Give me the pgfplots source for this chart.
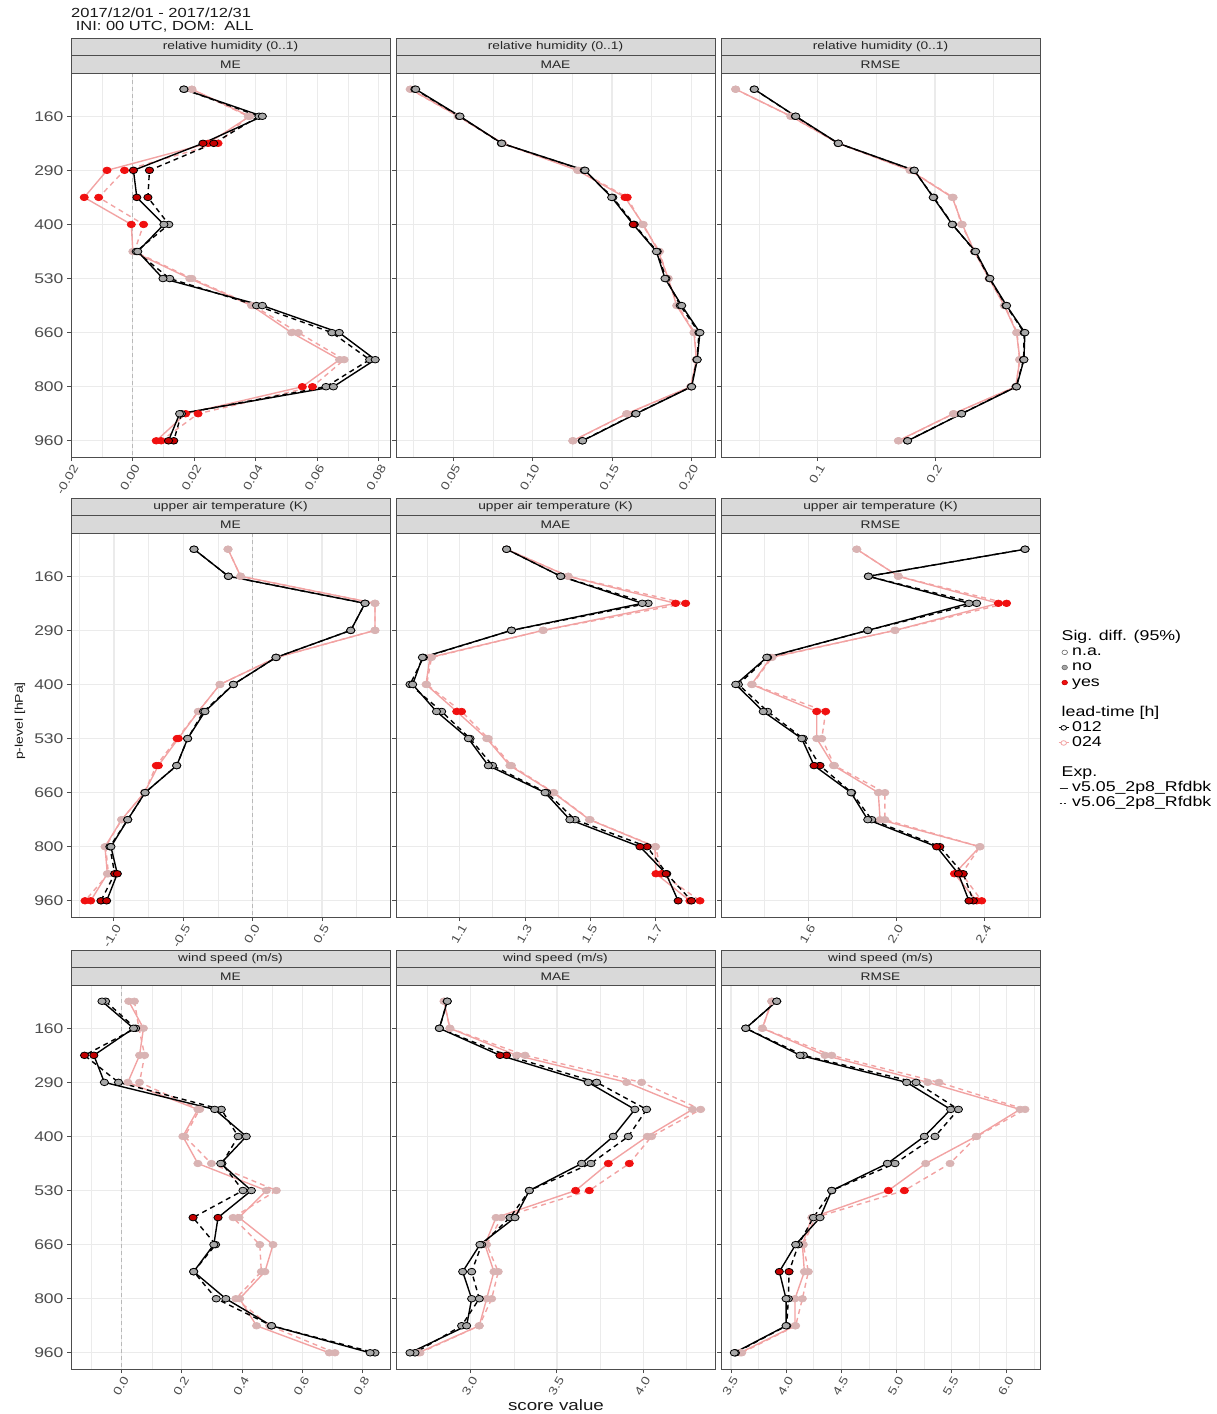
\documentclass[border=0pt]{standalone}
\usepackage{fontspec}
\setmainfont{Liberation Sans}[FakeStretch=1.25]
\usepackage{pgfplots}
\usepackage{pgfplotstable}
\pgfplotsset{compat=1.18}
\definecolor{gridc}{HTML}{EBEBEB}
\definecolor{bordc}{HTML}{4D4D4D}
\definecolor{stripf}{HTML}{D9D9D9}
\definecolor{tickc}{HTML}{4D4D4D}
\definecolor{no012}{HTML}{A8A8A8}
\definecolor{yes012}{HTML}{C40000}
\definecolor{c024}{HTML}{F2A3A3}
\definecolor{no024}{HTML}{D9B3B3}
\definecolor{yes024}{HTML}{F01010}
\newcommand{\fs}[1]{\fontsize{#1}{#1}\selectfont}

% columns: lev, a = 012 v5.05 (solid), b = 012 v5.06 (dashed), c = 024 v5.05, d = 024 v5.06, s = sig 012, t = sig 024
\pgfplotstableread{
lev a b c d s t
1 0.0166 0.0166 0.0192 0.0192 N N
2 0.0421 0.0410 0.0380 0.0375 N N
3 0.0228 0.0263 0.0245 0.0277 Y Y
4 0.0002 0.0054 -0.0084 -0.0027 Y Y
5 0.0013 0.0049 -0.0158 -0.0111 Y Y
6 0.0101 0.0117 -0.0005 0.0035 N Y
7 0.0016 0.0011 0.0000 0.0005 N N
8 0.0098 0.0120 0.0185 0.0192 N N
9 0.0421 0.0402 0.0386 0.0391 N N
10 0.0671 0.0647 0.0516 0.0538 N N
11 0.0788 0.0770 0.0672 0.0687 N N
12 0.0652 0.0628 0.0551 0.0584 N Y
13 0.0152 0.0158 0.0172 0.0212 N Y
14 0.0116 0.0133 0.0076 0.0092 Y Y
}\tA
\pgfplotstableread{
lev a b c d s t
1 0.0263 0.0258 0.0231 0.0228 N N
2 0.0542 0.0538 0.0532 0.0530 N N
3 0.0805 0.0803 0.0811 0.0808 N N
4 0.1330 0.1325 0.1283 0.1290 N N
5 0.1498 0.1505 0.1582 0.1596 N Y
6 0.1634 0.1640 0.1697 0.1690 Y N
7 0.1780 0.1785 0.1792 0.1800 N N
8 0.1834 0.1840 0.1855 0.1850 N N
9 0.1939 0.1930 0.1907 0.1915 N N
10 0.2054 0.2048 0.2016 0.2020 N N
11 0.2037 0.2035 0.2033 0.2030 N N
12 0.2002 0.2000 0.1995 0.1998 N N
13 0.1651 0.1648 0.1592 0.1595 N N
14 0.1315 0.1312 0.1252 0.1255 N N
}\tB
\pgfplotstableread{
lev a b c d s t
1 0.0460 0.0458 0.0301 0.0300 N N
2 0.0813 0.0810 0.0773 0.0770 N N
3 0.1176 0.1174 0.1176 0.1178 N N
4 0.1824 0.1820 0.1787 0.1790 N N
5 0.1985 0.1990 0.2147 0.2155 N N
6 0.2147 0.2150 0.2233 0.2225 N N
7 0.2346 0.2340 0.2335 0.2340 N N
8 0.2468 0.2465 0.2460 0.2465 N N
9 0.2610 0.2605 0.2590 0.2595 N N
10 0.2766 0.2760 0.2695 0.2700 N N
11 0.2758 0.2755 0.2724 0.2720 N N
12 0.2695 0.2692 0.2687 0.2690 N N
13 0.2227 0.2225 0.2156 0.2160 N N
14 0.1767 0.1765 0.1687 0.1690 N N
}\tC
\pgfplotstableread{
lev a b c d s t
1 -0.423 -0.423 -0.178 -0.178 N N
2 -0.175 -0.175 -0.087 -0.087 N N
3 0.810 0.810 0.882 0.882 N N
4 0.707 0.707 0.882 0.882 N N
5 0.168 0.168 0.173 0.173 N N
6 -0.139 -0.139 -0.236 -0.236 N N
7 -0.344 -0.355 -0.392 -0.392 N N
8 -0.469 -0.469 -0.536 -0.545 N Y
9 -0.548 -0.548 -0.680 -0.695 N Y
10 -0.776 -0.776 -0.781 -0.781 N N
11 -0.901 -0.901 -0.945 -0.945 N N
12 -1.022 -1.030 -1.065 -1.060 N N
13 -0.976 -0.995 -1.048 -1.040 Y N
14 -1.053 -1.094 -1.168 -1.209 Y Y
}\tD
\pgfplotstableread{
lev a b c d s t
1 1.243 1.243 1.243 1.243 N N
2 1.409 1.409 1.432 1.432 N N
3 1.659 1.677 1.761 1.792 N Y
4 1.258 1.258 1.355 1.355 N N
5 0.985 0.988 1.008 1.013 N N
6 0.955 0.947 0.996 0.998 N N
7 1.028 1.044 1.090 1.105 N Y
8 1.126 1.131 1.182 1.187 N N
9 1.187 1.200 1.253 1.258 N N
10 1.361 1.366 1.386 1.388 N N
11 1.437 1.453 1.497 1.499 N N
12 1.652 1.674 1.698 1.700 Y N
13 1.732 1.734 1.701 1.718 Y Y
14 1.769 1.810 1.805 1.836 Y Y
}\tE
\pgfplotstableread{
lev a b c d s t
1 2.585 2.585 1.820 1.820 N N
2 1.873 1.873 2.009 2.009 N N
3 2.330 2.365 2.464 2.501 N Y
4 1.870 1.870 1.994 1.994 N N
5 1.411 1.415 1.430 1.435 N N
6 1.270 1.282 1.342 1.345 N N
7 1.395 1.415 1.638 1.679 N Y
8 1.570 1.577 1.638 1.661 N N
9 1.626 1.653 1.714 1.719 Y N
10 1.794 1.797 1.918 1.948 N N
11 1.870 1.888 1.926 1.948 N N
12 2.183 2.198 2.380 2.380 Y N
13 2.282 2.304 2.264 2.297 Y Y
14 2.330 2.350 2.365 2.388 Y Y
}\tF
\pgfplotstableread{
lev a b c d s t
1 -0.066 -0.054 0.023 0.042 N N
2 0.039 0.046 0.072 0.057 N N
3 -0.093 -0.124 0.059 0.076 Y N
4 -0.058 -0.011 0.020 0.059 N N
5 0.309 0.331 0.253 0.259 N N
6 0.414 0.387 0.203 0.209 N N
7 0.329 0.333 0.253 0.298 N N
8 0.431 0.403 0.481 0.514 N N
9 0.320 0.237 0.390 0.370 Y N
10 0.306 0.312 0.503 0.459 N N
11 0.239 0.239 0.476 0.464 N N
12 0.346 0.314 0.392 0.379 N N
13 0.498 0.498 0.448 0.492 N N
14 0.826 0.842 0.690 0.709 N N
}\tG
\pgfplotstableread{
lev a b c d s t
1 2.865 2.865 2.846 2.846 N N
2 2.819 2.819 2.880 2.880 N N
3 3.170 3.208 3.266 3.315 Y N
4 3.681 3.730 3.903 3.990 N N
5 3.951 4.019 4.285 4.332 N N
6 3.826 3.913 4.023 4.048 N N
7 3.643 3.697 3.797 3.919 N Y
8 3.340 3.340 3.608 3.687 N Y
9 3.257 3.228 3.147 3.179 N N
10 3.054 3.064 3.083 3.093 N N
11 2.954 3.006 3.135 3.160 N N
12 3.006 3.050 3.093 3.122 N N
13 2.977 2.948 3.050 3.050 N N
14 2.649 2.678 2.697 2.707 N N
}\tH
\pgfplotstableread{
lev a b c d s t
1 3.914 3.914 3.869 3.869 N N
2 3.633 3.633 3.784 3.784 N N
3 4.126 4.156 4.352 4.413 N N
4 5.093 5.178 5.284 5.386 N N
5 5.492 5.562 6.121 6.166 N N
6 5.253 5.350 5.722 5.728 N N
7 4.918 4.987 5.265 5.486 N N
8 4.413 4.413 4.927 5.072 N Y
9 4.307 4.247 4.232 4.262 N N
10 4.086 4.111 4.147 4.156 N N
11 3.938 4.026 4.165 4.201 Y N
12 3.999 4.020 4.080 4.147 N N
13 3.999 4.005 4.080 4.086 N N
14 3.530 3.540 3.582 3.597 N N
}\tI

\pgfplotsset{
 panel/.style={width=319pt,height=384pt,scale only axis,anchor=north west,
   y dir=reverse,ymin=0.4,ymax=14.6,ytick={2,4,6,8,10,12,14},yticklabels={},
   grid=both, major grid style={gridc,line width=1.1pt}, minor grid style={gridc,line width=0.55pt},
   axis line style={bordc,line width=1pt}, tick style={bordc,line width=1pt},
   major tick length=4pt, minor tick length=0pt, tick align=outside, tick pos=left,
   xticklabel style={rotate=60,anchor=north east,font=\fs{11.5},text=tickc,inner sep=1.5pt},
   yticklabel style={font=\fs{14},text=tickc},
 },
 ylab/.style={yticklabels={160,290,400,530,660,800,960}},
 l012/.style={color=black, line width=1.4pt, mark size=3.3pt, scatter, scatter src=explicit symbolic,
   scatter/classes={N={mark=*,solid,draw=black,fill=no012,line width=0.8pt,xscale=1.25},
                    Y={mark=*,solid,draw=black,fill=yes012,line width=0.8pt,xscale=1.25}}},
 l024/.style={color=c024, line width=1.4pt, mark size=3.3pt, scatter, scatter src=explicit symbolic,
   scatter/classes={N={mark=*,solid,draw=no024,fill=no024,line width=0.7pt,xscale=1.25},
                    Y={mark=*,solid,draw=yes024,fill=yes024,line width=0.7pt,xscale=1.25}}},
 dsh/.style={dash pattern=on 5pt off 4pt},
 blankimg/.style={legend image code/.code={\path[draw=none,fill=none] (0pt,-2pt) rectangle (8pt,2pt);}},
 dotimg/.style 2 args={legend image code/.code={\path[draw=none,fill=none] (0pt,-2pt) rectangle (8pt,2pt);\draw[draw=#1,fill=#2,line width=0.6pt] (5pt,0pt) ellipse (2.8pt and 2.3pt);}},
 ltimg/.style={legend image code/.code={\draw[#1,line width=1pt] (-1pt,0pt) -- (9pt,0pt);\draw[#1,fill=white,line width=0.8pt] (4pt,0pt) ellipse (2.8pt and 2.3pt);}},
 eximg/.style={legend image code/.code={\draw[black!85,line width=1pt,#1] (0pt,0pt) -- (8pt,0pt);}},
}
\newcommand{\fourplots}[1]{%
 \addplot[l024] table[x=c,y=lev,meta=t]{#1};
 \addplot[l024,dsh] table[x=d,y=lev,meta=t]{#1};
 \addplot[l012,dsh] table[x=b,y=lev,meta=s]{#1};
 \addplot[l012] table[x=a,y=lev,meta=s]{#1};
}
\newcommand{\zeroline}{\addplot[gray!55,dash pattern=on 4pt off 3pt,line width=0.9pt,forget plot] coordinates {(0,0.4) (0,14.6)};}
\newcommand{\strips}[4]{%
 \draw[bordc,fill=stripf,line width=0.8pt] (#1,-#2) rectangle ++(319,-17.5);
 \draw[bordc,fill=stripf,line width=0.8pt] (#1,-#2-17.5) rectangle ++(319,-17.5);
 \node[font=\fs{11},text=black!85] at (#1+159.5,-#2-8.9) {#3};
 \node[font=\fs{11},text=black!85] at (#1+159.5,-#2-26.4) {#4};
}

\begin{document}
\begin{tikzpicture}[x=1pt,y=1pt]
\useasboundingbox (0,0) rectangle (1217,-1414);
% ---------- row 1: relative humidity
\begin{axis}[panel,ylab,at={(71pt,-73pt)},xmin=-0.0201,xmax=0.0836,
  xtick={-0.02,0,0.02,0.04,0.06,0.08},xticklabels={-0.02,0.00,0.02,0.04,0.06,0.08},
  minor xtick={-0.01,0.01,0.03,0.05,0.07}]
\zeroline
\fourplots{\tA}
\end{axis}
\begin{axis}[panel,at={(396pt,-73pt)},xmin=0.0139,xmax=0.2149,
  xtick={0.05,0.10,0.15,0.20},xticklabels={0.05,0.10,0.15,0.20},
  minor xtick={0.025,0.075,0.125,0.175}]
\fourplots{\tB}
\end{axis}
\begin{axis}[panel,at={(721pt,-73pt)},xmin=0.0176,xmax=0.2895,
  xtick={0.1,0.2},xticklabels={0.1,0.2},
  minor xtick={0.05,0.15,0.25}]
\fourplots{\tC}
\end{axis}
% ---------- row 2: temperature
\begin{axis}[panel,ylab,at={(71pt,-533pt)},xmin=-1.310,xmax=0.990,
  xtick={-1,-0.5,0,0.5},xticklabels={-1.0,-0.5,0.0,0.5},
  minor xtick={-1.25,-0.75,-0.25,0.25,0.75}]
\zeroline
\fourplots{\tD}
\end{axis}
\begin{axis}[panel,at={(396pt,-533pt)},xmin=0.904,xmax=1.882,
  xtick={1.1,1.3,1.5,1.7},xticklabels={1.1,1.3,1.5,1.7},
  minor xtick={1.0,1.2,1.4,1.6,1.8}]
\fourplots{\tE}
\end{axis}
\begin{axis}[panel,at={(721pt,-533pt)},xmin=1.203,xmax=2.653,
  xtick={1.6,2.0,2.4},xticklabels={1.6,2.0,2.4},
  minor xtick={1.4,1.8,2.2,2.6}]
\fourplots{\tF}
\end{axis}
% ---------- row 3: wind speed
\begin{axis}[panel,ylab,at={(71pt,-985pt)},xmin=-0.169,xmax=0.892,
  xtick={0,0.2,0.4,0.6,0.8},xticklabels={0.0,0.2,0.4,0.6,0.8},
  minor xtick={-0.1,0.1,0.3,0.5,0.7}]
\zeroline
\fourplots{\tG}
\end{axis}
\begin{axis}[panel,at={(396pt,-985pt)},xmin=2.568,xmax=4.415,
  xtick={3.0,3.5,4.0},xticklabels={3.0,3.5,4.0},
  minor xtick={2.75,3.25,3.75,4.25}]
\fourplots{\tH}
\end{axis}
\begin{axis}[panel,at={(721pt,-985pt)},xmin=3.409,xmax=6.302,
  xtick={3.5,4.0,4.5,5.0,5.5,6.0},xticklabels={3.5,4.0,4.5,5.0,5.5,6.0},
  minor xtick={3.75,4.25,4.75,5.25,5.75,6.25}]
\fourplots{\tI}
\end{axis}
% ---------- legend
\begin{axis}[at={(1058pt,-629.5pt)},anchor=north west,width=150pt,height=182pt,scale only axis,
  hide axis,xmin=0,xmax=1,ymin=0,ymax=1,legend cell align=left,
  legend style={at={(0,1)},anchor=north west,draw=none,fill=none,inner sep=0pt,
    font=\fs{14.2},row sep=0pt,
    nodes={inner sep=0.5pt,text height=10.5pt,text depth=3.6pt},
    /tikz/every odd column/.append style={column sep=2.5pt}}]
\addlegendimage{blankimg}
\addlegendentry{\hspace*{-10.5pt}Sig. diff. (95\%)}
\addlegendimage{dotimg={black!60}{white}}
\addlegendentry{n.a.}
\addlegendimage{dotimg={black!60}{no012}}
\addlegendentry{no}
\addlegendimage{dotimg={yes012}{yes024}}
\addlegendentry{yes}
\addlegendimage{blankimg}
\addlegendentry{}
\addlegendimage{blankimg}
\addlegendentry{\hspace*{-10.5pt}lead-time [h]}
\addlegendimage{ltimg=black}
\addlegendentry{012}
\addlegendimage{ltimg=c024}
\addlegendentry{024}
\addlegendimage{blankimg}
\addlegendentry{}
\addlegendimage{blankimg}
\addlegendentry{\hspace*{-10.5pt}Exp.}
\addlegendimage{eximg=solid}
\addlegendentry{v5.05\_2p8\_Rfdbk}
\addlegendimage{eximg={dash pattern=on 2.5pt off 1.5pt}}
\addlegendentry{v5.06\_2p8\_Rfdbk}
\end{axis}
% ---------- strips
\strips{71}{38}{relative humidity (0..1)}{ME}
\strips{396}{38}{relative humidity (0..1)}{MAE}
\strips{721}{38}{relative humidity (0..1)}{RMSE}
\strips{71}{498}{upper air temperature (K)}{ME}
\strips{396}{498}{upper air temperature (K)}{MAE}
\strips{721}{498}{upper air temperature (K)}{RMSE}
\strips{71}{950}{wind speed (m/s)}{ME}
\strips{396}{950}{wind speed (m/s)}{MAE}
\strips{721}{950}{wind speed (m/s)}{RMSE}
% ---------- titles
\node[anchor=west,font=\fs{13.2},text=black!90,inner sep=0pt] at (71,-13) {2017/12/01 - 2017/12/31};
\node[anchor=west,font=\fs{13.2},text=black!90,inner sep=0pt] at (71,-26.5) {\ INI: 00 UTC, DOM:\ \ ALL};
\node[rotate=90,font=\fs{11.2},text=black!90] at (20,-721) {p-level [hPa]};
\node[font=\fs{15},text=black!90] at (556,-1405) {score value};
\end{tikzpicture}
\end{document}
